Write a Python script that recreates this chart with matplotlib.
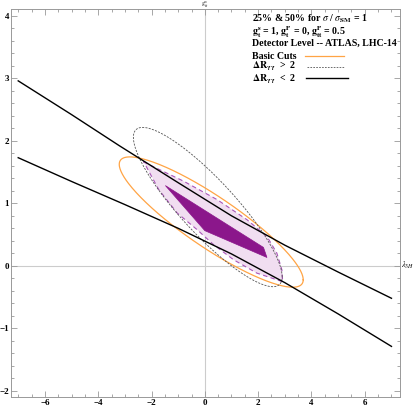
import numpy as np
import matplotlib.pyplot as plt
from matplotlib.ticker import MultipleLocator

plt.rcParams['font.family'] = ['Liberation Serif', 'DejaVu Serif']
plt.rcParams['mathtext.fontset'] = 'stix'

# upper / lower black boundary curves (Delta R < 2)
upper_x = [-7.0, -5.0, -3.2, -1.0, 1.0, 3.0, 5.0, 7.0]
upper_y = [2.96, 2.42, 1.92, 1.33, 0.80, 0.33, -0.10, -0.52]
lower_x = [-7.0, -5.0, -3.0, -1.0, 1.0, 3.0, 5.0, 7.0]
lower_y = [1.73, 1.35, 0.98, 0.60, 0.19, -0.27, -0.77, -1.29]

# ellipses: center x, center y, x half-extent, y half-extent, cos(phase)
basic_cuts = (0.24, 0.70, 3.45, 1.043, 0.885)
dr_gt2 = (0.11, 0.94, 2.79, 1.275, 0.875)

# 50% region (light) and 25% region (dark)
light_x = [-2.30, -2.23, -0.79, 0.46, 1.58, 2.33, 2.70, 2.89, 2.92,
           1.95, 1.08, 0.33, -0.29, -1.04, -1.73]
light_y = [1.67, 1.648, 1.353, 1.059, 0.738, 0.470, 0.204, -0.064, -0.255,
           -0.117, 0.096, 0.337, 0.578, 0.846, 1.22]
dark_x = [-1.48, 2.20, 2.33, 0.0]
dark_y = [1.284, 0.294, 0.133, 0.562]


def ellipse_curve(params):
    cx, cy, a, b, c = params
    t = np.linspace(0, 2 * np.pi, 300)
    phi = np.arccos(c)
    return cx + a * np.cos(t), cy - b * np.cos(t + phi)


fig = plt.figure(figsize=(4.15, 4.08), dpi=100)
ax = fig.add_axes([11/415, 1 - 397/408, 389/415, 388/408])

ax.axhline(0, color='#cccccc', lw=0.8, zorder=0)
ax.axvline(0, color='#cccccc', lw=0.8, zorder=0)

ax.fill(light_x, light_y, facecolor='#f1def1', edgecolor='#a955b8',
        lw=0.8, ls=(0, (4, 3)), zorder=1)
ax.fill(dark_x, dark_y, facecolor='#8b178b', edgecolor='#8b178b', lw=0.5, zorder=2)

ex, ey = ellipse_curve(basic_cuts)
ax.plot(ex, ey, color='#ffa445', lw=0.9, zorder=3)
ex, ey = ellipse_curve(dr_gt2)
ax.plot(ex, ey, color='#555555', lw=0.6, ls=(0, (2.5, 1.5)), zorder=3)

ax.plot(upper_x, upper_y, color='black', lw=1.0, zorder=4)
ax.plot(lower_x, lower_y, color='black', lw=1.0, zorder=4)

ax.set_xlim(-7.27, 7.32)
ax.set_ylim(-2.10, 4.11)
ax.xaxis.set_major_locator(MultipleLocator(2))
ax.xaxis.set_minor_locator(MultipleLocator(0.5))
ax.yaxis.set_major_locator(MultipleLocator(1))
ax.yaxis.set_minor_locator(MultipleLocator(0.2))
ax.tick_params(which='both', direction='in', top=True, right=True,
               color='#999999', width=0.6, labelsize=6.5, pad=1.5)
ax.tick_params(which='major', length=4)
ax.tick_params(which='minor', length=2)
for lab in ax.get_xticklabels() + ax.get_yticklabels():
    lab.set_fontweight('bold')
for sp in ax.spines.values():
    sp.set_color('#999999')
    sp.set_linewidth(0.7)

ax.text(1.003, (0 + 2.10) / 6.21, r'$\lambda_{3H}$', transform=ax.transAxes,
        fontsize=6, va='center', ha='left')
ax.text((0 + 7.27) / 14.59, 1.011, r'$g^{s}_{tt}$', transform=ax.transAxes,
        fontsize=4.5, va='center', ha='center')

tx = 0.620
lines = [
    (0.976, r'25% & 50% for $\sigma$ / $\sigma_{\mathbf{SM}}$ = 1'),
    (0.941, r'$\mathbf{g^{s}_{t}}$ = 1, $\mathbf{g^{P}_{t}}$ = 0, $\mathbf{g^{P}_{tt}}$ = 0.5'),
    (0.912, 'Detector Level -- ATLAS, LHC-14'),
    (0.878, 'Basic Cuts'),
    (0.851, r'$\mathbf{\Delta R_{\gamma\gamma}}$  >  2'),
    (0.818, r'$\mathbf{\Delta R_{\gamma\gamma}}$  <  2'),
]
for y, s in lines:
    ax.text(tx, y, s, transform=ax.transAxes, fontsize=7.1, fontweight='bold',
            va='center', ha='left')

ax.plot([0.756, 0.856], [0.878, 0.878], color='#ffa445', lw=0.9, transform=ax.transAxes)
ax.plot([0.761, 0.856], [0.850, 0.850], color='#555555', lw=0.6, ls=(0, (2, 1.5)),
        transform=ax.transAxes)
ax.plot([0.758, 0.866], [0.822, 0.822], color='black', lw=1.0, transform=ax.transAxes)

fig.savefig('out.png', dpi=100)
